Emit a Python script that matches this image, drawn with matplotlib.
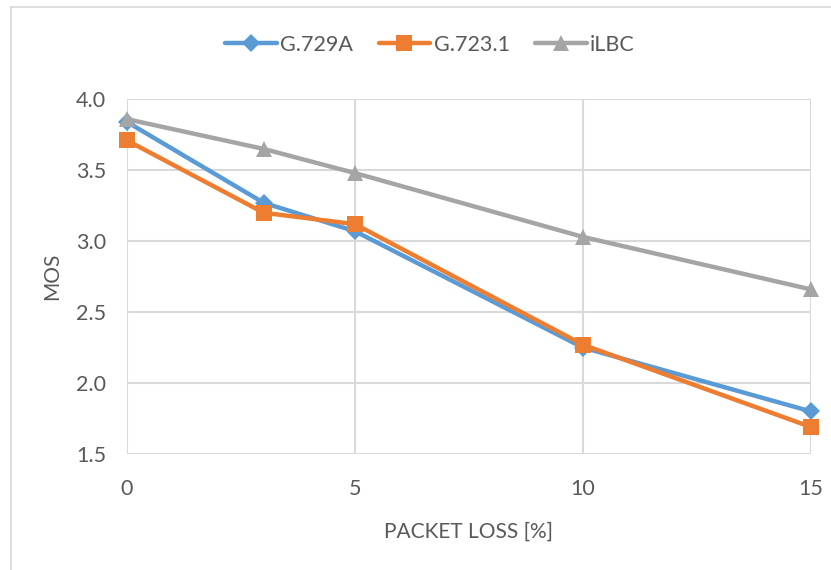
import matplotlib
matplotlib.use("Agg")
import matplotlib.pyplot as plt
from matplotlib.lines import Line2D

packet_loss = [0, 3, 5, 10, 15]
g729a = [3.84, 3.27, 3.07, 2.25, 1.80]
g7231 = [3.71, 3.20, 3.12, 2.27, 1.69]
ilbc = [3.86, 3.65, 3.48, 3.03, 2.66]
series_names = ["G.729A", "G.723.1", "iLBC"]
x_ticks = [0, 5, 10, 15]
y_ticks = [1.5, 2.0, 2.5, 3.0, 3.5, 4.0]

plt.rcParams['font.family'] = ['Lato', 'DejaVu Sans']

fig = plt.figure(figsize=(8.31, 5.70), dpi=100)
ax = fig.add_axes([127/831, 1-454/570, (811-127)/831, (454-99.3)/570])

text_color = "#595959"
colors = ["#5B9BD5", "#ED7D31", "#A5A5A5"]
markers = ["D", "s", "^"]
msizes = [9, 12, 12]
for ys, c, m, ms, name in zip([g729a, g7231, ilbc], colors, markers, msizes, series_names):
    ax.plot(packet_loss, ys, color=c, lw=3.2, marker=m, markersize=ms,
            markeredgewidth=0, label=name, clip_on=False, solid_capstyle='round')

ax.set_xlim(0, 15)
ax.set_ylim(1.5, 4.0)
ax.set_xticks(x_ticks)
ax.set_yticks(y_ticks)
ax.set_yticklabels([f"{v:.1f}" for v in y_ticks])
ax.grid(True, color="#D9D9D9", lw=1.5)
ax.set_axisbelow(True)
for s in ax.spines.values():
    s.set_visible(False)
ax.tick_params(length=0, labelsize=15.5, colors=text_color)
ax.tick_params(axis='y', pad=15)
ax.tick_params(axis='x', pad=18)
ax.set_xlabel("PACKET LOSS [%]", fontsize=15, color=text_color, labelpad=16)
ax.set_ylabel("MOS", fontsize=15, color=text_color, labelpad=10)

leg = fig.legend(loc='center', bbox_to_anchor=(430/831, 1-45/570), ncol=3,
                 frameon=False, fontsize=15.5, handlelength=2.4, columnspacing=1.2,
                 handletextpad=0.15)
for t in leg.get_texts():
    t.set_color(text_color)

# chart area border
fig.add_artist(Line2D([11/831, 11/831], [0, 1-7/570], color="#D9D9D9", lw=1.2))
fig.add_artist(Line2D([11/831, 1], [1-7/570, 1-7/570], color="#D9D9D9", lw=1.2))

fig.savefig("out.png", dpi=100)
